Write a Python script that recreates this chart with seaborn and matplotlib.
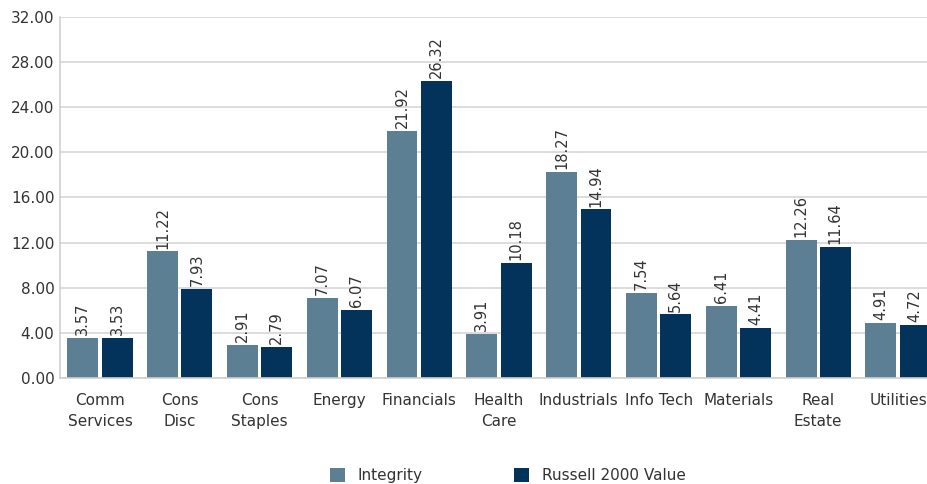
import pandas as pd
import matplotlib
matplotlib.use("Agg")
import matplotlib.pyplot as plt
import seaborn as sns

# sector weights
sectors = ["Comm\nServices", "Cons\nDisc", "Cons\nStaples", "Energy", "Financials",
           "Health\nCare", "Industrials", "Info Tech", "Materials", "Real\nEstate", "Utilities"]
integrity = [3.57, 11.22, 2.91, 7.07, 21.92, 3.91, 18.27, 7.54, 6.41, 12.26, 4.91]
russell = [3.53, 7.93, 2.79, 6.07, 26.32, 10.18, 14.94, 5.64, 4.41, 11.64, 4.72]
series = ["Integrity", "Russell 2000 Value"]
colors = ["#5C7F93", "#03335A"]

df = pd.DataFrame({
    "sector": sectors * 2,
    "value": integrity + russell,
    "series": [series[0]] * len(sectors) + [series[1]] * len(sectors),
})

sns.set_style("white")
plt.rcParams["font.family"] = ["DejaVu Sans"]

fig = plt.figure(figsize=(9.28, 4.84), dpi=100)
ax = fig.add_axes([0.0647, 0.219, 0.946, 0.746])

sns.barplot(data=df, x="sector", y="value", hue="series", palette=colors,
            width=0.86, gap=0.1, ax=ax, saturation=1, linewidth=0, legend=True)

for cont in ax.containers:
    ax.bar_label(cont, fmt="%.2f", rotation=90, padding=2, fontsize=10.5, color="#333333")

ax.set_ylim(0, 32)
ax.set_yticks(range(0, 33, 4))
ax.set_yticklabels([f"{v:.2f}" for v in range(0, 33, 4)], fontsize=11, color="#333333")
ax.set_xlim(-0.5, len(sectors) - 0.5)
ax.tick_params(axis="x", labelsize=11, colors="#333333", length=0, pad=11)
ax.tick_params(axis="y", length=0, pad=4)
for lbl in ax.get_xticklabels():
    lbl.set_linespacing(1.45)
ax.set_xlabel("")
ax.set_ylabel("")
ax.yaxis.grid(True, color="#D6D6D6", linewidth=1.2)
ax.set_axisbelow(True)
for s in ["top", "right"]:
    ax.spines[s].set_visible(False)
for s in ["left", "bottom"]:
    ax.spines[s].set_color("#CFCFCF")
    ax.spines[s].set_linewidth(1.2)

handles, labels = ax.get_legend_handles_labels()
ax.legend(handles, labels, loc="center", bbox_to_anchor=(0.51, -0.27), ncol=2,
          frameon=False, fontsize=11, handlelength=1.0, handleheight=1.0,
          columnspacing=6, handletextpad=0.8, labelcolor="#333333")

fig.savefig("out.png", dpi=100)
